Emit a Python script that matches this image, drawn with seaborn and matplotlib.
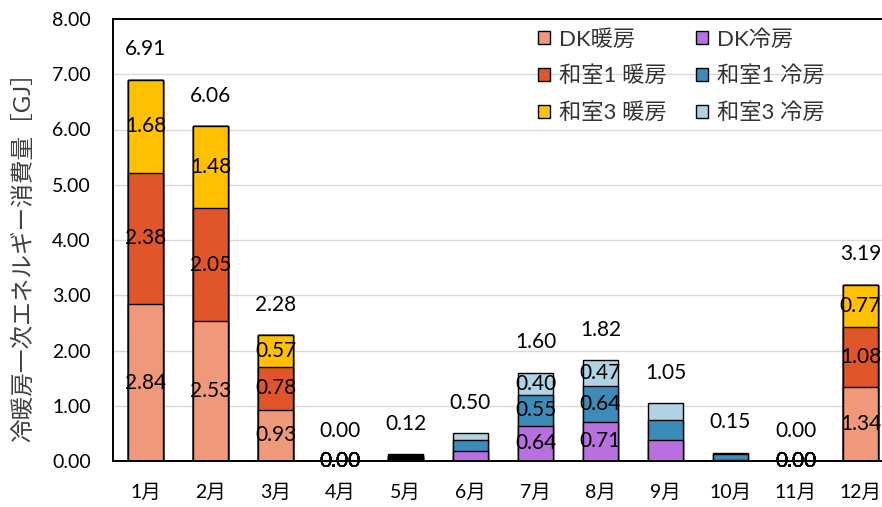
import numpy as np
import pandas as pd
import matplotlib
matplotlib.use("Agg")
import matplotlib.pyplot as plt
from matplotlib.patches import Patch
from matplotlib.ticker import FormatStrFormatter, MultipleLocator
import seaborn as sns

# ---- data -------------------------------------------------------------
months = ["1月", "2月", "3月", "4月", "5月", "6月",
          "7月", "8月", "9月", "10月", "11月", "12月"]

series_names = ["DK暖房", "和室1 暖房", "和室3 暖房",
                "DK冷房", "和室1 冷房", "和室3 冷房"]

dk_heat   = [2.84, 2.53, 0.93, 0.00, 0.03, 0.00, 0.00, 0.00, 0.00, 0.00, 0.00, 1.34]
w1_heat   = [2.38, 2.05, 0.78, 0.00, 0.02, 0.00, 0.00, 0.00, 0.00, 0.00, 0.00, 1.08]
w3_heat   = [1.68, 1.48, 0.57, 0.00, 0.02, 0.00, 0.00, 0.00, 0.00, 0.00, 0.00, 0.77]
dk_cool   = [0.00, 0.00, 0.00, 0.00, 0.02, 0.18, 0.64, 0.71, 0.38, 0.02, 0.00, 0.00]
w1_cool   = [0.00, 0.00, 0.00, 0.00, 0.02, 0.20, 0.55, 0.64, 0.36, 0.10, 0.00, 0.00]
w3_cool   = [0.00, 0.00, 0.00, 0.00, 0.01, 0.12, 0.40, 0.47, 0.31, 0.03, 0.00, 0.00]

totals = [6.91, 6.06, 2.28, 0.00, 0.12, 0.50, 1.60, 1.82, 1.05, 0.15, 0.00, 3.19]

# months whose segments carry value labels
labelled_months = ["1月", "2月", "3月", "4月", "7月", "8月", "11月", "12月"]

colors = ["#F0997A", "#E0562A", "#FFC000", "#B86FE0", "#3C8BB9", "#B0D2E4"]

series_values = [dk_heat, w1_heat, w3_heat, dk_cool, w1_cool, w3_cool]

# ---- style ------------------------------------------------------------
sns.set_theme(style="white")
plt.rcParams["font.family"] = ["Lato", "Noto Sans CJK JP"]
FS_LABEL = 15
FS_TICK = 14

fig = plt.figure(figsize=(8.82, 5.07), dpi=100)
ax = fig.add_axes([113 / 882, 1 - 461 / 507, (893 - 113) / 882, (461 - 19) / 507])

data = np.array(series_values)
cum = np.cumsum(data, axis=0)

# stacked bars: draw cumulative heights from the top layer down
for k in range(len(series_names) - 1, -1, -1):
    sns.barplot(x=months, y=cum[k], order=months, color=colors[k],
                saturation=1, edgecolor="black", linewidth=1.0,
                width=0.54, errorbar=None, ax=ax, zorder=2)

# segment value labels
for i, m in enumerate(months):
    if m not in labelled_months:
        continue
    for k in range(len(series_names)):
        v = data[k, i]
        if v > 0 or totals[i] == 0:
            ax.text(i, cum[k, i] - v / 2, f"{v:.2f}", ha="center", va="center",
                    fontsize=FS_LABEL, color="black", zorder=5)

# total labels above each bar
for i, t in enumerate(totals):
    ax.text(i, t + 0.55, f"{t:.2f}", ha="center", va="center",
            fontsize=FS_LABEL, color="black", zorder=5)

# ---- axes -------------------------------------------------------------
ax.set_xlim(-0.5, 11.5)
ax.set_ylim(0, 8)
ax.yaxis.set_major_locator(MultipleLocator(1))
ax.yaxis.set_major_formatter(FormatStrFormatter("%.2f"))
ax.yaxis.grid(True, color="#D9D9D9", linewidth=1.0, zorder=0)
ax.xaxis.grid(False)
ax.set_axisbelow(True)
ax.tick_params(axis="x", length=0, pad=16, labelsize=FS_TICK, colors="black")
ax.tick_params(axis="y", length=0, pad=16, labelsize=FS_TICK, colors="black")
ax.set_xlabel("")

for side in ["left", "bottom", "top", "right"]:
    ax.spines[side].set_visible(True)
    ax.spines[side].set_color("black")
    ax.spines[side].set_linewidth(1.4)

ax.set_ylabel("冷暖房一次エネルギー消費量［GJ］", fontsize=17, color="#404040")
ax.yaxis.set_label_coords(-0.101, 0.475)

# ---- legend -----------------------------------------------------------
handles = [Patch(facecolor=c, edgecolor="black", linewidth=1.0) for c in colors]
leg = fig.legend(handles, series_names, ncol=2, frameon=False,
                 loc="upper left", bbox_to_anchor=(538 / 882, 1 - 29 / 507),
                 fontsize=16, handlelength=0.55, handleheight=0.55,
                 handletextpad=0.4, columnspacing=1.3, labelspacing=0.72,
                 borderpad=0, borderaxespad=0)
for t in leg.get_texts():
    t.set_color("#333333")

fig.savefig("out.png", dpi=100)
